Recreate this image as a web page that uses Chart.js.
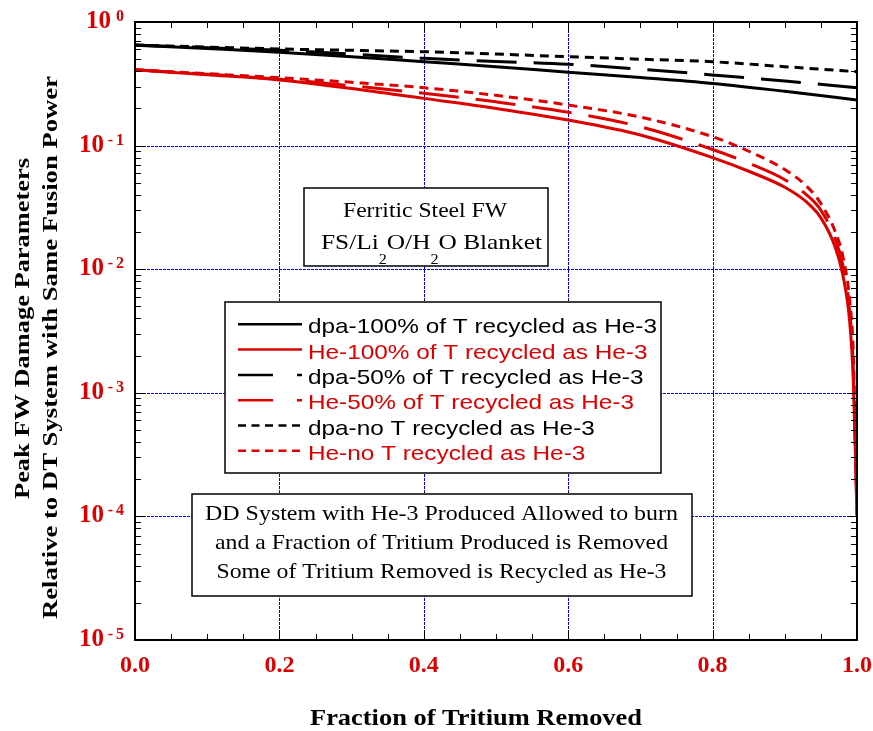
<!DOCTYPE html>
<html>
<head>
<meta charset="utf-8">
<script src="https://cdn.jsdelivr.net/npm/chart.js@4"></script>
<style>
  html, body { margin: 0; padding: 0; background: #fff; }
  canvas { display: block; }
</style>
</head>
<body>
<canvas id="grafico" width="873" height="731"></canvas>
<script>
// fraccion de tritio removido
const xDpa = [0, 0.1, 0.2, 0.3, 0.4, 0.5, 0.6, 0.7, 0.8, 0.9, 1.0];
const dpa100 = [0.65, 0.61, 0.57, 0.523, 0.477, 0.435, 0.392, 0.355, 0.318, 0.275, 0.234];
const dpa50 = [0.65, 0.62, 0.59, 0.55, 0.508, 0.48, 0.455, 0.415, 0.373, 0.333, 0.294];
const dpaNo = [0.65, 0.627, 0.605, 0.59, 0.575, 0.55, 0.524, 0.50, 0.477, 0.435, 0.396];

const xHe = [0, 0.1, 0.2, 0.3, 0.4, 0.5, 0.6, 0.7, 0.8, 0.85, 0.9, 0.93, 0.95, 0.97, 0.98, 0.99, 0.995, 1.0];
const he100 = [0.41, 0.375, 0.34, 0.29, 0.241, 0.2, 0.161, 0.122, 0.08, 0.062, 0.046, 0.035, 0.026, 0.015, 0.0092, 0.0037, 0.0012, 0.0001];
const he50 = [0.41, 0.378, 0.345, 0.305, 0.265, 0.226, 0.186, 0.142, 0.093, 0.072, 0.053, 0.04, 0.03, 0.0175, 0.011, 0.0045, 0.0015, 0.0001];
const heNo = [0.41, 0.382, 0.354, 0.325, 0.294, 0.255, 0.213, 0.17, 0.118, 0.09, 0.064, 0.047, 0.034, 0.02, 0.013, 0.0055, 0.002, 0.0001];

const labels = [
    'dpa-100% of T recycled as He-3',
    'He-100% of T recycled as He-3',
    'dpa-50% of T recycled as He-3',
    'He-50% of T recycled as He-3',
    'dpa-no T recycled as He-3',
    'He-no T recycled as He-3'
];
const xTicks = [0, 0.2, 0.4, 0.6, 0.8, 1.0];
const yExps = [0, -1, -2, -3, -4, -5];
const xTitle = 'Fraction of Tritium Removed';
const yTitle = ['Peak FW Damage Parameters', 'Relative to DT System with Same Fusion Power'];
const note1 = ['Ferritic Steel FW', 'FS/Li', '2', 'O/H', '2', 'O Blanket'];
const note2 = [
    'DD System with He-3 Produced Allowed to burn',
    'and a Fraction of Tritium Produced is Removed',
    'Some of Tritium Removed is Recycled as He-3'
];

const RED = '#dc0000';
const LONG = [40, 17];
const SHORT = [9, 6];

function pts(xs, ys) { return xs.map((x, i) => ({ x: x, y: ys[i] })); }

function serie(label, xs, ys, color, dash) {
    return {
        label: label,
        data: pts(xs, ys),
        borderColor: color,
        borderWidth: 3,
        borderDash: dash,
        pointRadius: 0,
        fill: false,
        cubicInterpolationMode: 'monotone'
    };
}

const data = {
    datasets: [
        serie(labels[0], xDpa, dpa100, '#000', []),
        serie(labels[1], xHe, he100, RED, []),
        serie(labels[2], xDpa, dpa50, '#000', LONG),
        serie(labels[3], xHe, he50, RED, LONG),
        serie(labels[4], xDpa, dpaNo, '#000', SHORT),
        serie(labels[5], xHe, heNo, RED, SHORT)
    ]
};

// texto estirado a un ancho dado
function fitText(ctx, text, x, y, width, align) {
    const w = ctx.measureText(text).width;
    ctx.save();
    ctx.translate(x, y);
    ctx.scale(width / w, 1);
    ctx.textAlign = align;
    ctx.fillText(text, 0, 0);
    ctx.restore();
}

const decor = {
    id: 'decor',
    beforeDatasetsDraw(chart) {
        const { ctx, chartArea: a, scales: { x, y } } = chart;
        ctx.save();
        ctx.strokeStyle = '#0000ff';
        ctx.lineWidth = 1;
        ctx.setLineDash([3, 1]);
        xTicks.slice(1, -1).forEach(v => {
            const px = Math.round(x.getPixelForValue(v)) + 0.5;
            ctx.beginPath();
            ctx.moveTo(px, a.top); ctx.lineTo(px, a.bottom);
            ctx.stroke();
        });
        yExps.slice(1, -1).forEach(e => {
            const py = Math.round(y.getPixelForValue(Math.pow(10, e))) + 0.5;
            ctx.beginPath();
            ctx.moveTo(a.left, py); ctx.lineTo(a.right, py);
            ctx.stroke();
        });
        ctx.restore();
    },
    afterDatasetsDraw(chart) {
        const ctx = chart.ctx;
        ctx.save();
        ctx.setLineDash([]);
        // caja 1
        ctx.fillStyle = '#fff';
        ctx.fillRect(304, 188, 244, 78);
        ctx.strokeStyle = '#000';
        ctx.lineWidth = 1.5;
        ctx.strokeRect(304, 188, 244, 78);
        ctx.fillStyle = '#000';
        ctx.font = '22px "Liberation Serif"';
        fitText(ctx, note1[0], 425, 216.5, 164, 'center');
        // linea con subindices
        const segs = note1.slice(1).map((t, i) => ({ t: t, sub: i % 2 === 1 }));
        let total = 0;
        segs.forEach(s => {
            ctx.font = s.sub ? '14px "Liberation Serif"' : '22px "Liberation Serif"';
            s.w = ctx.measureText(s.t).width;
            total += s.w;
        });
        const k = 221 / total;
        let cx = 321;
        segs.forEach(s => {
            ctx.font = s.sub ? '14px "Liberation Serif"' : '22px "Liberation Serif"';
            ctx.save();
            ctx.translate(cx, s.sub ? 264 : 248.5);
            ctx.scale(k, 1);
            ctx.textAlign = 'left';
            ctx.fillText(s.t, 0, 0);
            ctx.restore();
            cx += s.w * k;
        });

        // caja 2
        ctx.fillStyle = '#fff';
        ctx.fillRect(192, 494, 500, 102);
        ctx.strokeRect(192, 494, 500, 102);
        ctx.fillStyle = '#000';
        ctx.font = '22px "Liberation Serif"';
        const w2 = [473, 453, 450];
        note2.forEach((t, i) => fitText(ctx, t, 441.5, 519.5 + i * 29, w2[i], 'center'));

        // leyenda
        ctx.fillStyle = '#fff';
        ctx.fillRect(225, 302, 436, 171);
        ctx.strokeRect(225, 302, 436, 171);
        ctx.font = '21px "Liberation Sans"';
        const kLeg = 349 / ctx.measureText(labels[0]).width;
        chart.data.datasets.forEach((ds, i) => {
            const base = 333.3 + i * 25.3;
            ctx.strokeStyle = ds.borderColor;
            ctx.lineWidth = 2.5;
            const d = ds.borderDash.length === 0 ? [] : (ds.borderDash === LONG ? [35, 24] : [8, 5.5]);
            ctx.setLineDash(d);
            ctx.beginPath();
            ctx.moveTo(238, base - 9);
            ctx.lineTo(302, base - 9);
            ctx.stroke();
            ctx.setLineDash([]);
            ctx.fillStyle = ds.borderColor;
            ctx.save();
            ctx.translate(308, base);
            ctx.scale(kLeg, 1);
            ctx.textAlign = 'left';
            ctx.fillText(ds.label, 0, 0);
            ctx.restore();
        });
        ctx.restore();
    },
    afterDraw(chart) {
        const { ctx, chartArea: a, scales: { x, y } } = chart;
        ctx.save();
        ctx.setLineDash([]);
        ctx.strokeStyle = '#000';
        ctx.lineWidth = 1;
        ctx.beginPath();
        // marcas del eje x
        for (let i = 0; i <= 20; i++) {
            const px = Math.round(x.getPixelForValue(i * 0.05)) + 0.5;
            const len = i % 4 === 0 ? 10 : 6;
            ctx.moveTo(px, a.bottom); ctx.lineTo(px, a.bottom - len);
            ctx.moveTo(px, a.top); ctx.lineTo(px, a.top + len);
        }
        // marcas del eje y
        yExps.forEach(e => {
            const py = Math.round(y.getPixelForValue(Math.pow(10, e))) + 0.5;
            ctx.moveTo(a.left, py); ctx.lineTo(a.left + 10, py);
            ctx.moveTo(a.right, py); ctx.lineTo(a.right - 10, py);
        });
        yExps.slice(1).forEach(e => {
            for (let m = 2; m <= 9; m++) {
                const py = Math.round(y.getPixelForValue(m * Math.pow(10, e))) + 0.5;
                ctx.moveTo(a.left, py); ctx.lineTo(a.left + 6, py);
                ctx.moveTo(a.right, py); ctx.lineTo(a.right - 6, py);
            }
        });
        ctx.stroke();
        ctx.lineWidth = 2;
        ctx.strokeRect(a.left, a.top, a.right - a.left, a.bottom - a.top);

        // etiquetas del eje y
        ctx.fillStyle = RED;
        ctx.textBaseline = 'alphabetic';
        yExps.forEach(e => {
            const py = y.getPixelForValue(Math.pow(10, e));
            const base = py + 6;
            ctx.font = 'bold 16px "Liberation Serif"';
            ctx.textAlign = 'right';
            ctx.fillText(String(Math.abs(e)), 124, base - 7);
            if (e < 0) ctx.fillText('-', 113, base - 7);
            ctx.font = 'bold 25px "Liberation Serif"';
            ctx.fillText('10', e < 0 ? 104 : 111, base);
        });

        // titulos
        ctx.fillStyle = '#000';
        ctx.font = 'bold 23px "Liberation Serif"';
        ctx.textBaseline = 'alphabetic';
        fitText(ctx, xTitle, 476, 725, 332, 'center');
        ctx.font = 'bold 22px "Liberation Serif"';
        ctx.textBaseline = 'middle';
        const yc = [[23, 328.5, 341], [51, 347.5, 543]];
        yTitle.forEach((t, i) => {
            const w = ctx.measureText(t).width;
            ctx.save();
            ctx.translate(yc[i][0], yc[i][1]);
            ctx.rotate(-Math.PI / 2);
            ctx.scale(yc[i][2] / w, 1);
            ctx.textAlign = 'center';
            ctx.fillText(t, 0, 0);
            ctx.restore();
        });
        ctx.restore();
    }
};

const chart = new Chart(document.getElementById('grafico'), {
    type: 'line',
    data: data,
    options: {
        responsive: false,
        animation: false,
        layout: { padding: { left: 135, top: 22, right: 16, bottom: 0 } },
        plugins: { legend: { display: false }, tooltip: { enabled: false } },
        scales: {
            x: {
                type: 'linear', min: 0, max: 1,
                grid: { display: false },
                border: { display: false },
                ticks: {
                    stepSize: 0.2, autoSkip: false, maxRotation: 0, padding: 3,
                    color: RED,
                    font: { family: 'Liberation Serif', weight: 'bold', size: 24 },
                    callback: v => Number(v).toFixed(1)
                },
                afterFit(s) { s.height = 91; s.paddingLeft = 0; s.paddingRight = 0; }
            },
            y: {
                type: 'logarithmic', min: 1e-5, max: 1,
                grid: { display: false },
                border: { display: false },
                ticks: { display: false },
                afterFit(s) { s.width = 0; }
            }
        }
    },
    plugins: [decor]
});
</script>
</body>
</html>
